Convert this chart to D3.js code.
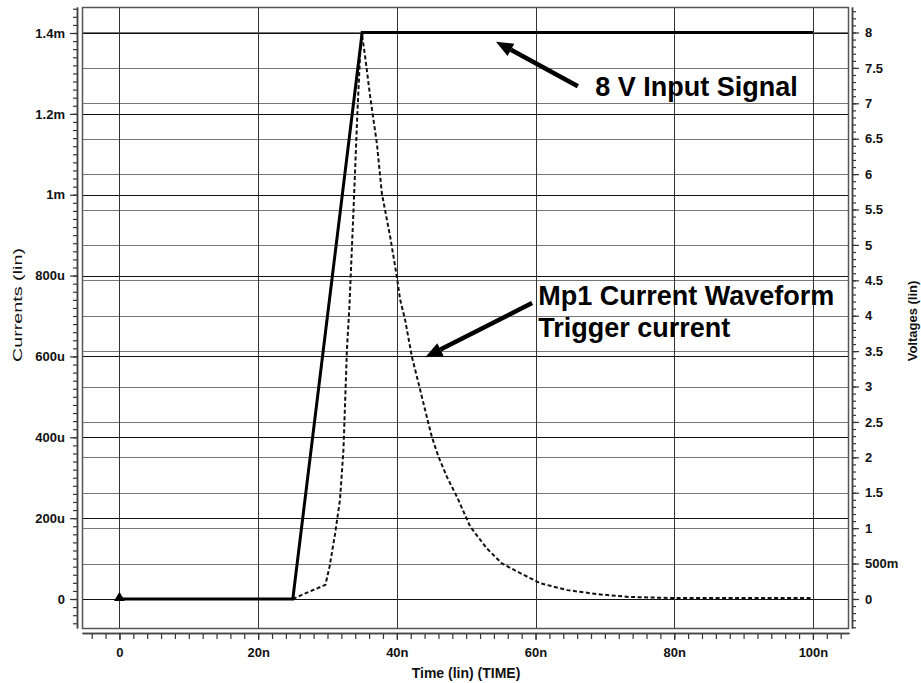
<!DOCTYPE html>
<html><head><meta charset="utf-8">
<script src="https://cdn.jsdelivr.net/npm/d3@7/dist/d3.min.js"></script>
<style>body{margin:0;background:#fff}</style>
</head><body>
<svg id="c" width="921" height="683"></svg>
<script>
// ---------- data ----------
const inputTimeNs = [0, 25, 35, 100];
const inputVolts  = [0, 0, 8, 8];

const currentTimeNs = [25, 26.8, 29.7, 30.3, 31.1, 31.8, 32.3, 32.55, 32.8, 33.15, 33.75, 34.33, 34.71, 34.95,
  35.43, 36.16, 37.12, 37.84, 39.04, 40.0, 40.48, 41.2, 42.17, 42.89, 43.84, 44.56, 45.05, 46.0, 47.22, 48.66,
  50.58, 52.98, 55.15, 57.79, 60.67, 64.6, 68.9, 73.6, 79.8, 100];
const currentMicroA = [0, 14, 35, 80, 162, 245, 369, 492, 616, 720, 962, 1210, 1350, 1399,
  1341, 1242, 1127, 1003, 896, 797, 740, 690, 599, 550, 484, 434, 401, 352, 302, 253,
  179, 125, 88, 64, 39, 22, 12, 5, 2.5, 2.5];

const xTickValues = [0, 20, 40, 60, 80, 100];
const xTickLabels = ["0", "20n", "40n", "60n", "80n", "100n"];
const leftTickValues = [0, 200, 400, 600, 800, 1000, 1200, 1400];
const leftTickLabels = ["0", "200u", "400u", "600u", "800u", "1m", "1.2m", "1.4m"];
const rightTickValues = [0, 0.5, 1, 1.5, 2, 2.5, 3, 3.5, 4, 4.5, 5, 5.5, 6, 6.5, 7, 7.5, 8];
const rightTickLabels = ["0", "500m", "1", "1.5", "2", "2.5", "3", "3.5", "4", "4.5", "5", "5.5", "6", "6.5", "7", "7.5", "8"];

// annotations in data units (t in ns, value on the named axis)
const annotations = [
  {axis: "V", text: ["8 V Input Signal"], tx: 68.6, ty: 7.10, tailT: 66.1, tailV: 7.24, tipT: 54.3, tipV: 7.87},
  {axis: "I", text: ["Mp1 Current Waveform", "Trigger current"], tx: 60.4, ty: 727, tailT: 59.5, tailV: 732, tipT: 44.1, tipV: 598}
];

// ---------- layout ----------
const L = 82, R = 849, T = 7, B = 628;
const svg = d3.select("#c");
const x = d3.scaleLinear().domain([-5.4, 105.2]).range([L, R]);
const yI = d3.scaleLinear().domain([-71.7, 1464.3]).range([B, T]);
const yV = d3.scaleLinear().domain([-0.41, 8.36]).range([B, T]);

const tickFont = "'Liberation Sans', Arial, sans-serif";

// grid
const g = svg.append("g");
g.selectAll(".gv").data(rightTickValues).join("line")
  .attr("x1", L).attr("x2", R).attr("y1", d => Math.round(yV(d)) + 0.5).attr("y2", d => Math.round(yV(d)) + 0.5)
  .attr("stroke", "#777").attr("stroke-width", 1);
g.selectAll(".gi").data(leftTickValues).join("line")
  .attr("x1", L).attr("x2", R).attr("y1", d => Math.round(yI(d)) + 0.5).attr("y2", d => Math.round(yI(d)) + 0.5)
  .attr("stroke", "#111").attr("stroke-width", 1);
g.selectAll(".gx").data(xTickValues).join("line")
  .attr("x1", d => Math.round(x(d)) + 0.5).attr("x2", d => Math.round(x(d)) + 0.5).attr("y1", T).attr("y2", B)
  .attr("stroke", "#333").attr("stroke-width", 1);

// frame
svg.append("rect").attr("x", L + 0.5).attr("y", T + 0.5).attr("width", R - L - 1).attr("height", B - T)
  .attr("fill", "none").attr("stroke", "#555").attr("stroke-width", 1.5);

// axes
function styleAxis(sel) {
  sel.selectAll("path.domain").attr("stroke", "#444").attr("stroke-width", 1.5);
  sel.selectAll(".tick line").attr("stroke", "#333").attr("stroke-width", 1.2);
  sel.selectAll("text").attr("font-family", tickFont).attr("font-weight", "bold").attr("font-size", 13).attr("fill", "#111");
}
const minorI = d3.range(-60, 1461, 20);
const minorV = d3.range(-4, 84, 1).map(d => d / 10);
const minorX = d3.range(-4, 105, 2);

const axL = svg.append("g").attr("transform", "translate(77,0)");
axL.append("g").call(d3.axisLeft(yI).tickValues(minorI).tickSize(4).tickSizeOuter(0).tickFormat(""));
axL.append("g").call(d3.axisLeft(yI).tickValues(leftTickValues).tickSize(7).tickSizeOuter(0).tickPadding(5)
  .tickFormat((d, i) => leftTickLabels[i]));
styleAxis(axL);

const axR = svg.append("g").attr("transform", "translate(852,0)");
axR.append("g").call(d3.axisRight(yV).tickValues(minorV).tickSize(4).tickSizeOuter(0).tickFormat(""));
axR.append("g").call(d3.axisRight(yV).tickValues(rightTickValues).tickSize(7).tickSizeOuter(0).tickPadding(6)
  .tickFormat((d, i) => rightTickLabels[i]));
styleAxis(axR);

const axB = svg.append("g").attr("transform", "translate(0,633)");
axB.append("g").call(d3.axisBottom(x).tickValues(minorX).tickSize(6).tickSizeOuter(0).tickFormat(""));
axB.append("g").call(d3.axisBottom(x).tickValues(xTickValues).tickSize(7).tickSizeOuter(0).tickPadding(8)
  .tickFormat((d, i) => xTickLabels[i]));
styleAxis(axB);

// axis titles
svg.append("text").attr("transform", "translate(22,305) rotate(-90)").attr("text-anchor", "middle")
  .attr("font-family", "'Liberation Sans', Arial, sans-serif").attr("font-size", 13).attr("fill", "#111")
  .attr("textLength", 114).attr("lengthAdjust", "spacingAndGlyphs").text("Currents (lin)");
svg.append("text").attr("transform", "translate(917,321) rotate(-90)").attr("text-anchor", "middle")
  .attr("font-family", "'Liberation Sans', Arial, sans-serif").attr("font-weight", "bold").attr("font-size", 13).attr("fill", "#111")
  .text("Voltages (lin)");
svg.append("text").attr("x", 466).attr("y", 678).attr("text-anchor", "middle")
  .attr("font-family", tickFont).attr("font-weight", "bold").attr("font-size", 14).attr("fill", "#111")
  .text("Time (lin) (TIME)");

// traces
const lineV = d3.line().x(d => x(d[0])).y(d => yV(d[1]));
const lineI = d3.line().x(d => x(d[0])).y(d => yI(d[1]));
svg.append("path").datum(currentTimeNs.map((t, i) => [t, currentMicroA[i]]))
  .attr("d", lineI).attr("fill", "none").attr("stroke", "#111").attr("stroke-width", 2)
  .attr("stroke-dasharray", "4,2.5");
svg.append("path").datum(inputTimeNs.map((t, i) => [t, inputVolts[i]]))
  .attr("d", lineV).attr("fill", "none").attr("stroke", "#000").attr("stroke-width", 3)
  .attr("stroke-linejoin", "miter");
// start marker
svg.append("path").attr("d", d3.symbol(d3.symbolTriangle, 50))
  .attr("transform", `translate(${x(inputTimeNs[0])},${yV(inputVolts[0]) - 1})`).attr("fill", "#000");

// annotations
annotations.forEach(a => {
  const ys = a.axis === "V" ? yV : yI;
  const tx = x(a.tailT), ty = ys(a.tailV), hx = x(a.tipT), hy = ys(a.tipV);
  const ang = Math.atan2(hy - ty, hx - tx);
  const hl = 17, hw = 7;
  const bx = hx - hl * Math.cos(ang), by = hy - hl * Math.sin(ang);
  svg.append("line").attr("x1", tx).attr("y1", ty).attr("x2", bx).attr("y2", by)
    .attr("stroke", "#000").attr("stroke-width", 4.5);
  const px = -Math.sin(ang), py = Math.cos(ang);
  svg.append("path").attr("d", `M${hx},${hy}L${bx + px * hw},${by + py * hw}L${bx - px * hw},${by - py * hw}Z`)
    .attr("fill", "#000");
  a.text.forEach((s, i) => {
    svg.append("text").attr("x", x(a.tx)).attr("y", ys(a.ty) + i * 32)
      .attr("font-family", "'Liberation Sans', Arial, sans-serif").attr("font-weight", "bold")
      .attr("font-size", 27).attr("fill", "#000").text(s);
  });
});
</script>
</body></html>
